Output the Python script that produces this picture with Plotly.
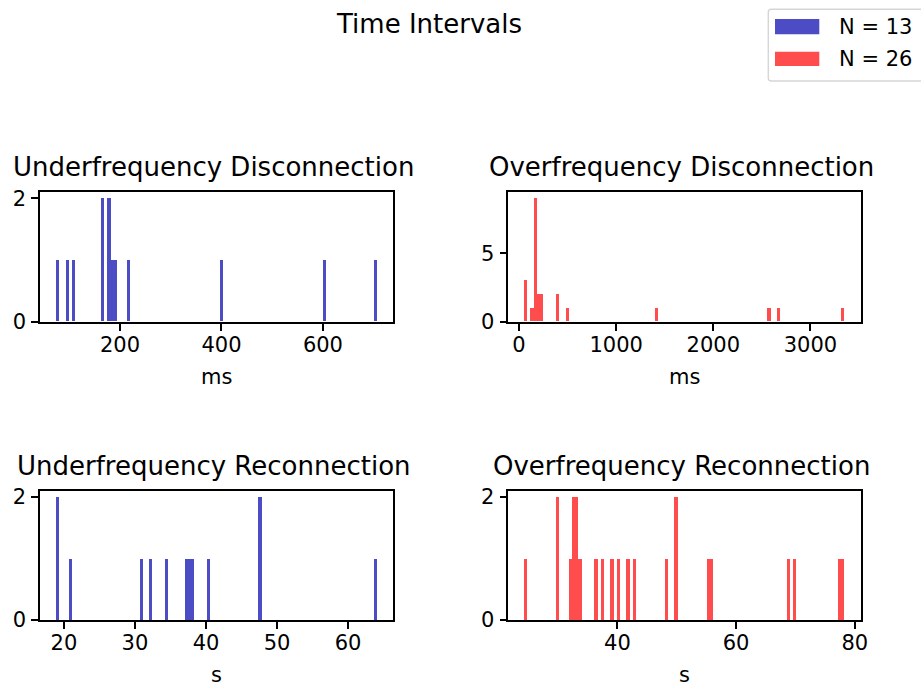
import numpy as np
import plotly.graph_objects as go

# ---------------- data ----------------
suptitle = "Time Intervals"
panel_titles = ["Underfrequency Disconnection", "Overfrequency Disconnection",
                "Underfrequency Reconnection", "Overfrequency Reconnection"]
panel_units = ["ms", "ms", "s", "s"]
legend_labels = ["N = 13", "N = 26"]

uf_disconnection_ms = [74, 93, 106, 165, 166, 177, 178, 185, 191, 215, 399, 605, 707]
of_disconnection_ms = [55, 62, 70, 125,
                       158, 160, 162, 165, 168, 170, 172, 175, 180,
                       195, 205, 225, 240, 390, 400, 490, 1420, 2575, 2675, 3350]
uf_reconnection_s = [18.9, 19.0, 20.9, 31.0, 32.3, 34.6, 37.2, 37.7, 38.15,
                     40.3, 47.55, 47.65, 64.1]
of_reconnection_s = [24.3, 29.8, 29.9, 31.9, 32.5, 32.7, 33.0, 33.2, 33.9,
                     36.6, 37.4, 39.0, 40.1, 41.8, 42.9, 48.3, 49.8, 49.9,
                     55.3, 55.8, 68.9, 69.9, 77.5, 78.27]

n_bins = 100
x_dticks = [200, 1000, 10, 20]
y_tickvals = [[0, 2], [0, 5], [0, 2], [0, 2]]

# ---------------- style ----------------
W, H = 921, 686
BLUE = "rgb(76,76,196)"
RED = "rgb(255,76,76)"
FONT = "DejaVu Sans"
TITLE_SIZE = 26
TICK_SIZE = 21

datasets = [uf_disconnection_ms, of_disconnection_ms, uf_reconnection_s, of_reconnection_s]
colors = [BLUE, RED, BLUE, RED]

col_px = [(40.0, 393.3), (508.3, 860.5)]
row_px = [(192.3, 321.7), (490.7, 620.0)]


def fx(p):
    return p / W


def fy(p):
    return 1 - p / H


fig = go.Figure()
annotations = []
shapes = []

for i, (vals, color) in enumerate(zip(datasets, colors)):
    r, c = divmod(i, 2)
    counts, edges = np.histogram(np.asarray(vals, dtype=float), bins=n_bins)
    centers = (edges[:-1] + edges[1:]) / 2
    width = edges[1] - edges[0]
    suffix = "" if i == 0 else str(i + 1)
    fig.add_trace(go.Bar(
        x=centers, y=counts, width=width,
        marker=dict(color=color, line=dict(width=0)),
        xaxis="x" + suffix, yaxis="y" + suffix,
        showlegend=False, hoverinfo="x+y",
    ))
    span = edges[-1] - edges[0]
    xr = [edges[0] - 0.05 * span, edges[-1] + 0.05 * span]
    yr = [0, counts.max() * 1.05]
    x0, x1 = col_px[c]
    y0, y1 = row_px[r]
    axis_common = dict(
        showline=True, mirror=True, linecolor="black", linewidth=1.6,
        ticks="outside", ticklen=7, tickwidth=1.6, tickcolor="black",
        tickfont=dict(family=FONT, size=TICK_SIZE, color="black"),
        showgrid=False, zeroline=False, automargin=False,
    )
    fig.layout["xaxis" + suffix] = dict(
        axis_common, domain=[fx(x0), fx(x1)], range=xr,
        tickmode="linear", tick0=0, dtick=x_dticks[i],
        anchor="y" + suffix, ticklabelstandoff=-4,
    )
    fig.layout["yaxis" + suffix] = dict(
        axis_common, domain=[fy(y1), fy(y0)], range=yr,
        tickmode="array", tickvals=y_tickvals[i],
        anchor="x" + suffix, ticklabelstandoff=1,
    )
    # subplot title
    annotations.append(dict(
        text=panel_titles[i], xref="paper", yref="paper",
        x=fx((x0 + x1) / 2 - 3), y=fy(y0 - 25), xanchor="center", yanchor="middle",
        showarrow=False, font=dict(family=FONT, size=TITLE_SIZE, color="black"),
    ))
    # x-axis label
    annotations.append(dict(
        text=panel_units[i], xref="paper", yref="paper",
        x=fx((x0 + x1) / 2), y=fy(y1 + 55), xanchor="center", yanchor="middle",
        showarrow=False, font=dict(family=FONT, size=TICK_SIZE, color="black"),
    ))

# suptitle
annotations.append(dict(
    text=suptitle, xref="paper", yref="paper", x=fx(429), y=fy(23.5),
    xanchor="center", yanchor="middle", showarrow=False,
    font=dict(family=FONT, size=TITLE_SIZE, color="black"),
))

# legend (drawn as shapes + text)
lx0, lx1, ly0, ly1, rad = 768.3, 930.0, 9.3, 81.0, 3.0
path = (f"M {fx(lx0 + rad)},{fy(ly0)} L {fx(lx1)},{fy(ly0)} L {fx(lx1)},{fy(ly1)} "
        f"L {fx(lx0 + rad)},{fy(ly1)} Q {fx(lx0)},{fy(ly1)} {fx(lx0)},{fy(ly1 - rad)} "
        f"L {fx(lx0)},{fy(ly0 + rad)} Q {fx(lx0)},{fy(ly0)} {fx(lx0 + rad)},{fy(ly0)} Z")
shapes.append(dict(type="path", path=path, xref="paper", yref="paper",
                   fillcolor="rgba(255,255,255,0.8)",
                   line=dict(color="rgb(214,214,214)", width=1.4)))
patch_rows = [(19.0, 34.3), (51.7, 66.0)]
for (py0, py1), color, label in zip(patch_rows, [BLUE, RED], legend_labels):
    shapes.append(dict(type="rect", xref="paper", yref="paper",
                       x0=fx(775), x1=fx(819.3), y0=fy(py1), y1=fy(py0),
                       fillcolor=color, line=dict(width=0)))
    annotations.append(dict(
        text=label, xref="paper", yref="paper", x=fx(836.5), y=fy((py0 + py1) / 2),
        xanchor="left", yanchor="middle", showarrow=False,
        font=dict(family=FONT, size=TICK_SIZE, color="black"),
    ))

fig.update_layout(
    width=W, height=H,
    margin=dict(l=0, r=0, t=0, b=0),
    paper_bgcolor="white", plot_bgcolor="white",
    showlegend=False, bargap=0,
    annotations=annotations, shapes=shapes,
    font=dict(family=FONT, color="black"),
)

fig.write_html("out.html")
